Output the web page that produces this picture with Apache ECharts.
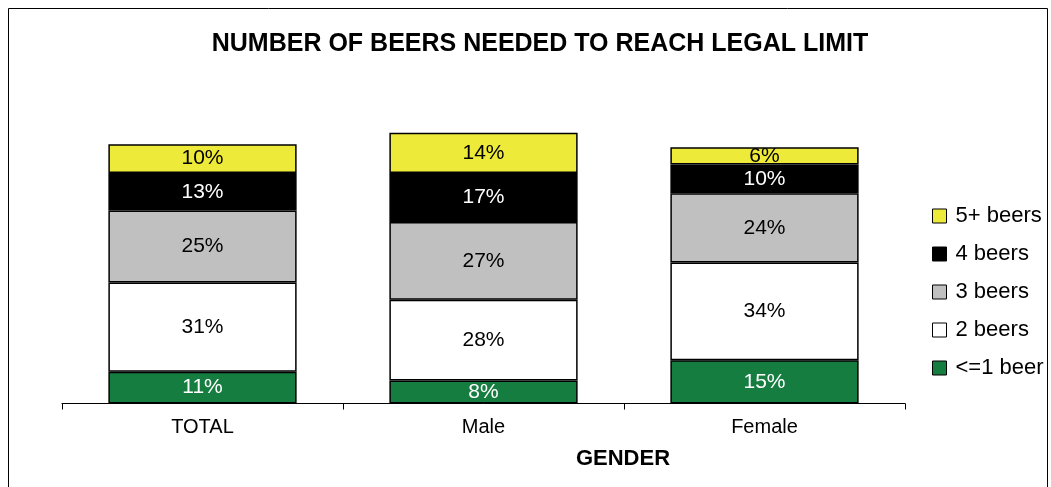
<!DOCTYPE html>
<html>
<head>
<meta charset="utf-8">
<script src="https://cdn.jsdelivr.net/npm/echarts@6/dist/echarts.min.js"></script>
<style>
  html, body { margin: 0; padding: 0; background: #fff; }
  #chart { width: 1051px; height: 487px; }
</style>
</head>
<body>
<div id="chart"></div>
<script>
// Share of respondents by number of beers needed to reach the legal limit
const categories = ['TOTAL', 'Male', 'Female'];
const seriesNames = ['<=1 beer', '2 beers', '3 beers', '4 beers', '5+ beers'];
const beer1 = [11, 8, 15];
const beer2 = [31, 28, 34];
const beer3 = [25, 27, 24];
const beer4 = [13, 17, 10];
const beer5 = [10, 14, 6];

const values = [beer1, beer2, beer3, beer4, beer5];
const fills = ['#167D40', '#FFFFFF', '#C0C0C0', '#000000', '#EEEA3A'];
const labelColors = ['#FFFFFF', '#000000', '#000000', '#FFFFFF', '#000000'];
const FONT = '"Liberation Sans", Arial, sans-serif';

const chart = echarts.init(document.getElementById('chart'));

const series = seriesNames.map((name, i) => ({
  name: name,
  type: 'bar',
  stack: 'beers',
  barWidth: '67%',
  data: values[i],
  itemStyle: { color: fills[i], borderColor: '#000', borderWidth: 1.5 },
  label: {
    show: true,
    position: 'inside',
    formatter: '{c}%',
    color: labelColors[i],
    fontFamily: FONT,
    fontSize: 21
  },
  emphasis: { disabled: true }
}));

chart.setOption({
  animation: false,
  backgroundColor: '#fff',
  title: {
    text: 'NUMBER OF BEERS NEEDED TO REACH LEGAL LIMIT',
    left: 535,
    textAlign: 'center',
    top: 27,
    textStyle: { fontFamily: FONT, fontSize: 25, fontWeight: 'bold', color: '#000' }
  },
  legend: {
    data: seriesNames.slice().reverse(),
    orient: 'vertical',
    left: 927,
    top: 200,
    itemWidth: 14,
    itemHeight: 14,
    itemGap: 16,
    icon: 'rect',
    selectedMode: false,
    textStyle: { fontFamily: FONT, fontSize: 22, color: '#000', padding: [0, 0, 0, 4] },
    itemStyle: { borderColor: '#000', borderWidth: 1 }
  },
  grid: { left: 62, right: 146, top: 115.5, bottom: 83.5 },
  xAxis: {
    type: 'category',
    data: categories,
    axisLine: { lineStyle: { color: '#000', width: 1 } },
    axisTick: { show: true, length: 6, lineStyle: { color: '#000' } },
    axisLabel: { color: '#000', fontFamily: FONT, fontSize: 20, margin: 14 }
  },
  yAxis: {
    type: 'value',
    min: 0,
    max: 100,
    show: false
  },
  graphic: [
    {
      type: 'rect',
      shape: { x: 8.5, y: 8.5, width: 1039, height: 490 },
      style: { fill: 'none', stroke: '#000', lineWidth: 1 },
      z: -1
    },
    {
      type: 'text',
      x: 623,
      y: 459,
      style: {
        text: 'GENDER',
        fontFamily: FONT,
        fontSize: 22,
        fontWeight: 'bold',
        fill: '#000',
        align: 'center',
        verticalAlign: 'middle'
      }
    }
  ],
  series: series
});
</script>
</body>
</html>
